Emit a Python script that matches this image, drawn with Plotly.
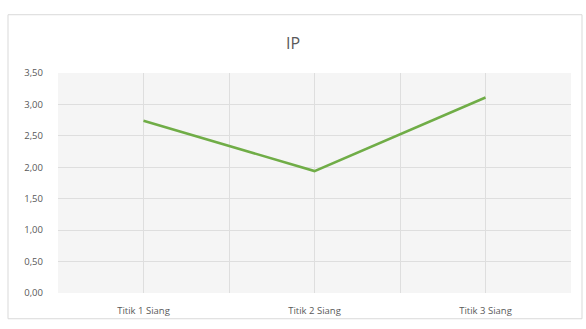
import plotly.graph_objects as go

categories = ["Titik 1 Siang", "Titik 2 Siang", "Titik 3 Siang"]
ip_values = [2.74, 1.94, 3.11]
y_ticks = [0, 0.5, 1.0, 1.5, 2.0, 2.5, 3.0, 3.5]

xpos = list(range(len(categories)))

L, R, T, B = 58, 571, 73, 299.5
W, H = R - L, B - T

def px(x):
    return (x - L) / W

def py(y):
    return (B - y) / H

fig = go.Figure()
fig.add_trace(go.Scatter(
    x=xpos, y=ip_values, mode="lines",
    line=dict(color="#70ad47", width=2.5),
    showlegend=False, hoverinfo="skip",
))

fig.update_layout(
    width=586, height=329,
    margin=dict(l=L, r=586 - R, t=T, b=329 - B),
    paper_bgcolor="white",
    plot_bgcolor="#f5f5f5",
    separators=",.",
    font=dict(family="Open Sans, Liberation Sans, sans-serif", color="#595959", size=9),
    title=dict(text="IP", x=0.5, xanchor="center", y=1 - 43/329, yanchor="middle",
               font=dict(size=16, color="#595959")),
    shapes=[dict(type="rect", xref="paper", yref="paper",
                 x0=px(8), x1=px(582), y0=py(326), y1=py(13),
                 line=dict(color="#d9d9d9", width=1), layer="below")],
)
fig.update_xaxes(
    range=[-0.5, len(categories) - 0.5],
    tickvals=xpos, ticktext=categories,
    showgrid=True, gridcolor="#dedede", gridwidth=1,
    minor=dict(tickvals=[i - 0.5 for i in range(len(categories) + 1)], showgrid=True,
               gridcolor="#dedede", gridwidth=1),
    showline=False, zeroline=False, ticks="", fixedrange=True,
    ticklabelstandoff=10,
    tickfont=dict(size=9.5, color="#595959"),
)
fig.update_yaxes(
    range=[0, 3.5], tickvals=y_ticks, tickformat=".2f",
    showgrid=True, gridcolor="#dedede", gridwidth=1,
    zeroline=False, showline=False, ticks="", ticklabelstandoff=14,
    tickfont=dict(size=9.5, color="#595959"),
)

fig.write_html("out.html")
